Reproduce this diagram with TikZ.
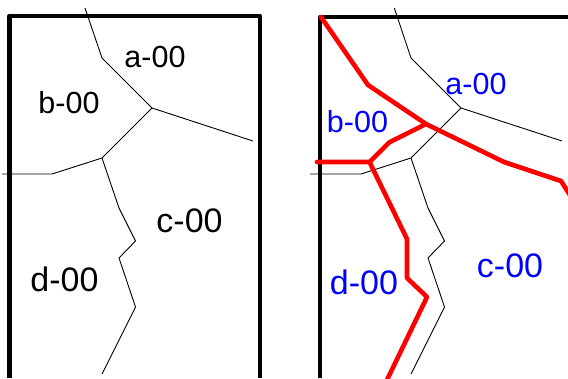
\documentclass[tikz,border=0pt]{standalone}
\usepackage{fontspec}
\setmainfont{Liberation Sans}
\tikzset{
  frameline/.style={line width=4.4pt,line join=round,line cap=butt},
  grainline/.style={line width=0.9pt,black,line join=miter},
  redline/.style={line width=4.6pt,red,line join=round,line cap=round},
  lab/.style={inner sep=0pt,font=\fontsize{#1}{#1}\selectfont},
  lab/.default=30,
  bluelab/.style={lab=#1,text={rgb,255:red,0;green,0;blue,255}},
  bluelab/.default=30
}
\begin{document}
\begin{tikzpicture}[x=1pt,y=-1pt]
\useasboundingbox (0,0) rectangle (568,378);
% left panel
\draw[frameline] (9.5,378) -- (9.5,16) -- (260,16) -- (260,378);
\coordinate (la0) at (85,8);
\coordinate (la1) at (102,58);
\coordinate (j1) at (152,108);
\coordinate (la2) at (253,141);
\coordinate (j2) at (102,158);
\coordinate (lb1) at (52,174);
\coordinate (lb2) at (2,174);
\coordinate (ld1) at (119,208);
\coordinate (ld2) at (135.5,241);
\coordinate (ld3) at (119,258);
\coordinate (ld4) at (135.5,307);
\coordinate (ld5) at (102,374);
\draw[grainline] (la0) -- (la1) -- (j1) -- (la2);
\draw[grainline] (j1) -- (j2) -- (lb1) -- (lb2);
\draw[grainline] (j2) -- (ld1) -- (ld2) -- (ld3) -- (ld4) -- (ld5);
\node[lab=30.5] (ta) at (155,57) {a-00};
\node[lab=30.5] (tb) at (69,103) {b-00};
\node[lab=34] (tc) at (189.5,221) {c-00};
\node[lab=34] (td) at (64.5,279) {d-00};
% right panel
\draw[frameline] (319.7,378) -- (319.7,17) -- (568,17);
\coordinate (ra0) at (394.3,8);
\coordinate (ra1) at (411,58);
\coordinate (k1) at (461,108);
\coordinate (ra2) at (562,141);
\coordinate (k2) at (411,158);
\coordinate (rb1) at (361,174);
\coordinate (rb2) at (310,174);
\coordinate (rd1) at (428,208);
\coordinate (rd2) at (444.5,241);
\coordinate (rd3) at (428,258);
\coordinate (rd4) at (444.5,307);
\coordinate (rd5) at (411,374);
\draw[grainline] (ra0) -- (ra1) -- (k1) -- (ra2);
\draw[grainline] (k1) -- (k2) -- (rb1) -- (rb2);
\draw[grainline] (k2) -- (rd1) -- (rd2) -- (rd3) -- (rd4) -- (rd5);
% red path
\coordinate (r0) at (321,17);
\coordinate (r1) at (368,85);
\coordinate (r2) at (426,124);
\coordinate (r3) at (504,162);
\coordinate (r4) at (561,181);
\coordinate (r5) at (575,203);
\coordinate (r6) at (389,142.5);
\coordinate (r7) at (369.5,162);
\coordinate (r8) at (317,162);
\coordinate (r9) at (407,239);
\coordinate (r10) at (407,278);
\coordinate (r11) at (427,297);
\coordinate (r12) at (386,382);
\begin{scope}
\clip (0,0) rectangle (568,378);
\draw[redline] (r0) -- (r1) -- (r2) -- (r3) -- (r4) -- (r5);
\draw[redline] (r2) -- (r6) -- (r7) -- (r8);
\draw[redline] (r7) -- (r9) -- (r10) -- (r11) -- (r12);
\end{scope}
\node[bluelab=30.5] (ua) at (476,84) {a-00};
\node[bluelab=30.5] (ub) at (357.5,122) {b-00};
\node[bluelab=34] (ud) at (364,282) {d-00};
\node[bluelab=34] (uc) at (510,266) {c-00};
\end{tikzpicture}
\end{document}
